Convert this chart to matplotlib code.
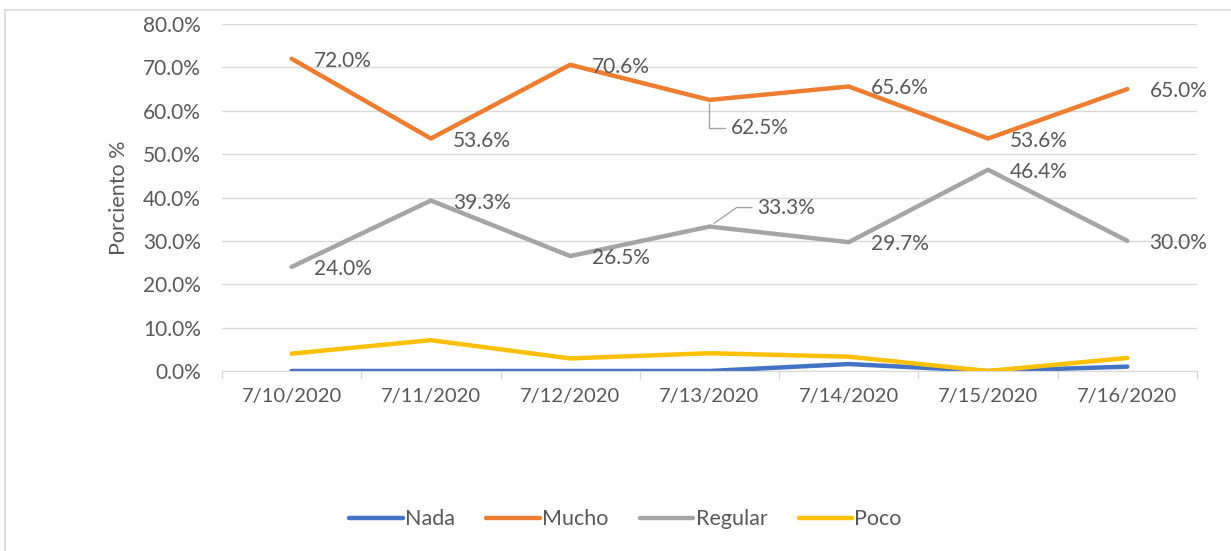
#---Import useful libraries---
import matplotlib.pyplot as plt
from matplotlib.patches import Rectangle

#---Chart data---
dates = ["7/10/2020", "7/11/2020", "7/12/2020", "7/13/2020",
         "7/14/2020", "7/15/2020", "7/16/2020"]
nada = [0.0, 0.0, 0.0, 0.0, 1.6, 0.0, 1.0]
mucho = [72.0, 53.6, 70.6, 62.5, 65.6, 53.6, 65.0]
regular = [24.0, 39.3, 26.5, 33.3, 29.7, 46.4, 30.0]
poco = [4.0, 7.1, 2.9, 4.1, 3.3, 0.0, 3.0]

plt.rcParams['font.family'] = ['Lato', 'DejaVu Sans']
txt = '#595959'
grid = '#D9D9D9'
fs = 15

fig = plt.figure(figsize=(12.31, 5.51), dpi=100)
ax = fig.add_axes([0.1803, 0.3267, 0.7921, 0.6297])

x = list(range(len(dates)))
ax.plot(x, nada, color='#4472C4', lw=3.2, label='Nada', solid_capstyle='round')
ax.plot(x, mucho, color='#ED7D31', lw=3.2, label='Mucho', solid_capstyle='round')
ax.plot(x, regular, color='#A5A5A5', lw=3.2, label='Regular', solid_capstyle='round')
ax.plot(x, poco, color='#FFC000', lw=3.2, label='Poco', solid_capstyle='round')

#---Data labels (offsets in pixels)---
def lab(i, v, dx=22, dy=-2):
    ax.annotate(f"{v:.1f}%", (i, v), xytext=(dx, dy), textcoords='offset pixels',
                ha='left', va='center', fontsize=fs, color=txt)

for i, v in enumerate(mucho):
    if i == 3:
        continue
    lab(i, v)
for i, v in enumerate(regular):
    if i == 3:
        continue
    lab(i, v)

#Leader-line labels for 7/13
ax.annotate(f"{mucho[3]:.1f}%", (3, mucho[3]), xytext=(21, -28),
            textcoords='offset pixels', ha='left', va='center', fontsize=fs,
            color=txt,
            arrowprops=dict(arrowstyle='-', color='#A5A5A5', lw=1,
                            connectionstyle='angle,angleA=0,angleB=90,rad=0',
                            shrinkA=2, shrinkB=2))
ax.annotate(f"{regular[3]:.1f}%", (3, regular[3]), xytext=(48, 19),
            textcoords='offset pixels', ha='left', va='center', fontsize=fs,
            color=txt,
            arrowprops=dict(arrowstyle='-', color='#A5A5A5', lw=1,
                            connectionstyle='angle,angleA=0,angleB=35,rad=0',
                            shrinkA=2, shrinkB=4))

#---Axes styling---
ax.set_xlim(-0.5, len(dates) - 0.5)
ax.set_ylim(0, 80)
ax.set_yticks(range(0, 81, 10))
ax.set_yticklabels([f"{v:.1f}%" for v in range(0, 81, 10)])
ax.set_xticks(x)
ax.set_xticklabels(dates)
ax.set_xticks([i - 0.5 for i in range(len(dates) + 1)], minor=True)
ax.tick_params(axis='x', which='major', length=0, pad=12, labelsize=14.5,
               labelcolor=txt)
ax.tick_params(axis='x', which='minor', length=6, color=grid, width=1)
ax.tick_params(axis='y', length=0, pad=15, labelsize=15, labelcolor=txt)
ax.grid(axis='y', color=grid, lw=1)
ax.set_axisbelow(True)
for s in ['top', 'right', 'left']:
    ax.spines[s].set_visible(False)
ax.spines['bottom'].set_color(grid)
ax.set_ylabel("Porciento %", fontsize=15.5, color=txt, labelpad=10)

#---Legend---
fig.legend(loc='center', bbox_to_anchor=(0.508, 0.058), ncol=4, frameon=False,
           fontsize=15.5, labelcolor=txt, handlelength=2.5, handletextpad=0.1,
           columnspacing=1.45)

#---Chart frame---
fig.patches.append(Rectangle((0.004, -0.01), 1.0, 0.992, transform=fig.transFigure,
                             fill=False, edgecolor=grid, lw=1.2))

plt.savefig("out.png", dpi=100)
